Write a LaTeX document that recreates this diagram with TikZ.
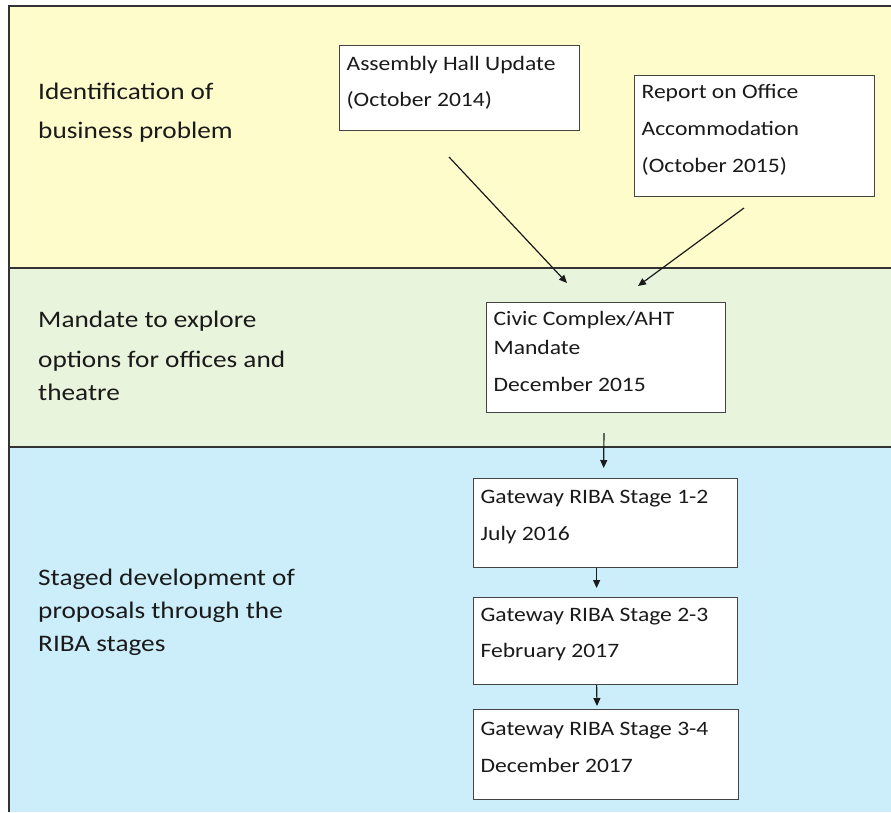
\documentclass[tikz,border=0pt]{standalone}
\usepackage{fontspec}
\setmainfont{Carlito}[FakeStretch=1.15]
\usetikzlibrary{arrows.meta}

\newlength{\du}
\setlength{\du}{1pt}

\definecolor{problemfill}{HTML}{FFFCCC}
\definecolor{mandatefill}{HTML}{E9F4DC}
\definecolor{stagefill}{HTML}{CCEEFA}
\definecolor{frameline}{HTML}{333333}
\definecolor{boxline}{HTML}{444444}
\definecolor{textcol}{HTML}{1A1A1A}

% box text: width, height, first baseline, lines
\newcommand{\boxtext}[4]{\begin{minipage}[t][#2\du][t]{#1\du}\leftskip=7\du\baselineskip=37\du\rule{0pt}{#3\du}#4\end{minipage}}
\newcommand{\sidetext}[1]{\parbox[t]{300\du}{\baselineskip=33\du #1}}

\tikzset{
  frame/.style={draw=frameline, line width=1.5\du},
  stagebox/.style={draw=boxline, line width=1.2\du, fill=white, inner sep=0pt, anchor=north west,
    font=\fontsize{20.5}{37}\selectfont, text=textcol},
  sidelabel/.style={anchor=base west, inner sep=0pt, font=\fontsize{23.7}{33}\selectfont, text=textcol},
  flow/.style={draw=textcol, line width=1.2\du, -{Triangle[length=8pt,width=7pt]}}
}

\begin{document}
\begin{tikzpicture}
\pgftransformyscale{-1}
\useasboundingbox (0\du,0\du) rectangle (891\du,812\du);
% bands
\fill[problemfill] (9\du,6\du) rectangle (891\du,268\du);
\fill[mandatefill] (9\du,268\du) rectangle (891\du,447\du);
\fill[stagefill] (9\du,447\du) rectangle (891\du,812\du);
\draw[frame] (9\du,812\du)--(9\du,6\du)--(891\du,6\du);
\draw[frame] (9\du,268\du)--(891\du,268\du);
\draw[frame] (9\du,447\du)--(891\du,447\du);
% side labels
\node[sidelabel] (problem) at (38\du,99\du) {\sidetext{Identification of\\[6\du]business problem}};
\node[sidelabel] (mandate) at (38\du,327\du) {\sidetext{Mandate to explore\\[7\du]options for offices and\\theatre}};
\node[sidelabel] (staged) at (38\du,585\du) {\sidetext{Staged development of\\proposals through the\\RIBA stages}};
% boxes
\node[stagebox] (hall) at (339\du,45\du) {\boxtext{240}{85}{25}{Assembly Hall Update\\[-1\du](October 2014)}};
\node[stagebox] (office) at (634\du,75\du) {\boxtext{240}{121}{23}{Report on Office\\Accommodation\\(October 2015)}};
\node[stagebox] (civic) at (486\du,302\du) {\boxtext{239}{110}{23}{Civic Complex/AHT\\[-8\du]Mandate\\December 2015}};
\node[stagebox] (stagea) at (473\du,478\du) {\boxtext{264}{89}{25}{Gateway RIBA Stage 1-2\\July 2016}};
\node[stagebox] (stageb) at (473\du,597\du) {\boxtext{264}{87}{24}{Gateway RIBA Stage 2-3\\[-1\du]February 2017}};
\node[stagebox] (stagec) at (473\du,709\du) {\boxtext{265}{90}{26}{Gateway RIBA Stage 3-4\\December 2017}};
% connectors
\coordinate (hallout) at (449\du,157\du);
\coordinate (hallin) at (567\du,283\du);
\coordinate (officeout) at (744\du,208\du);
\coordinate (officein) at (638\du,286\du);
\draw[flow] (hallout) -- (hallin);
\draw[flow] (officeout) -- (officein);
\draw[flow, shorten <=20\du, shorten >=10\du] ([xshift=-2\du]civic.south) -- ([xshift=-2\du]stagea.north);
\draw[flow, shorten >=9\du] ([xshift=-9\du]stagea.south) -- ([xshift=-9\du]stageb.north);
\draw[flow, shorten >=3\du] ([xshift=-9\du]stageb.south) -- ([xshift=-9\du]stagec.north);
\end{tikzpicture}
\end{document}
